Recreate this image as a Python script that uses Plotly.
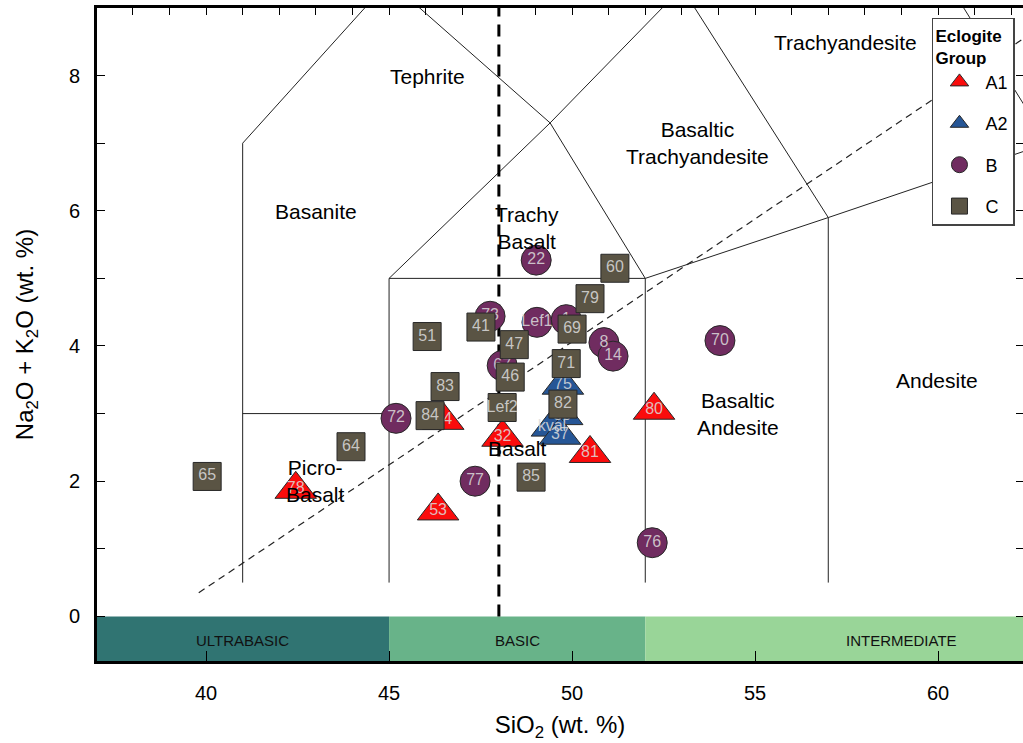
import plotly.graph_objects as go

FONT = "Liberation Sans, Arial, sans-serif"

# ---------------- data ----------------
a1_labels = ["78", "53", "74", "32", "81", "80"]
a1_sio2 = [42.45, 46.34, 46.48, 48.10, 50.49, 52.24]
a1_alk = [1.88, 1.56, 2.90, 2.65, 2.41, 3.05]

a2_labels = ["75", "30", "kval", "37"]
a2_sio2 = [49.75, 49.73, 49.45, 49.67]
a2_alk = [3.42, 2.97, 2.80, 2.68]

b_labels = ["22", "73", "Lef1", "1", "8", "14", "67", "72", "77", "70", "76"]
b_sio2 = [49.02, 47.76, 49.04, 49.84, 50.87, 51.12, 48.09, 45.19, 47.35, 54.04, 52.19]
b_alk = [5.27, 4.44, 4.35, 4.39, 4.05, 3.85, 3.71, 2.93, 2.00, 4.08, 1.09]

c_labels = ["60", "79", "41", "69", "47", "51", "71", "46", "83", "84", "Lef2", "82", "85", "64", "65"]
c_sio2 = [51.17, 50.49, 47.51, 50.00, 48.42, 46.04, 49.84, 48.31, 46.53, 46.12, 48.09, 49.75, 48.88, 43.96, 40.03]
c_alk = [5.15, 4.70, 4.28, 4.25, 4.02, 4.14, 3.74, 3.54, 3.40, 2.97, 3.09, 3.14, 2.06, 2.51, 2.07]

# TAS field boundaries (Le Maitre) as polylines
tas_lines = [
    ([41, 41, 45], [0.5, 7, 9.4]),
    ([41, 45], [3, 3]),
    ([45, 45, 52, 52], [0.5, 5, 5, 0.5]),
    ([45, 49.4, 52], [5, 7.3, 5]),
    ([45, 49.4, 53], [9.4, 7.3, 9.3]),
    ([52, 57, 63], [5, 5.9, 7]),
    ([57, 57, 53], [0.5, 5.9, 9.3]),
    ([57.6, 63], [11.7, 7]),
]
# Irvine & Baragar alkaline / subalkaline divide
alk_line_x = [39.8, 65.5]
alk_line_y = [0.35, 9.7]
divide_x = 48

field_names = ["Tephrite", "Basanite", "Trachy<br>Basalt", "Basaltic<br>Trachyandesite",
               "Trachyandesite", "Picro-<br>Basalt", "Basalt", "Basaltic<br>Andesite", "Andesite"]
field_x = [46.04, 43.0, 48.77, 53.42, 57.46, 43.0, 48.5, 54.54, 59.97]
field_y = [7.99, 5.99, 5.74, 7.0, 8.49, 2.0, 2.49, 2.99, 3.49]

band_names = ["ULTRABASIC", "BASIC", "INTERMEDIATE"]
band_edges = [37.0, 45, 52, 66]
band_colors = ["rgb(48,116,114)", "rgb(104,179,137)", "rgb(153,213,152)"]
band_label_x = [41.0, 48.5, 59.0]

x_range = [37.02, 62.32]
y_range = [-0.66, 9.0]
x_ticks = [40, 45, 50, 55, 60]

groups = [
    ("A1", a1_sio2, a1_alk, a1_labels, "triangle-up", "rgb(250,12,12)", 36),
    ("A2", a2_sio2, a2_alk, a2_labels, "triangle-up", "rgb(38,86,150)", 36),
    ("B", b_sio2, b_alk, b_labels, "circle", "rgb(112,44,96)", 30),
    ("C", c_sio2, c_alk, c_labels, "square", "rgb(90,84,68)", 28),
]

fig = go.Figure()

for lx, ly in tas_lines:
    fig.add_trace(go.Scatter(x=lx, y=ly, mode="lines", line=dict(color="#222", width=1),
                             showlegend=False, hoverinfo="skip"))

fig.add_trace(go.Scatter(x=alk_line_x, y=alk_line_y, mode="lines",
                         line=dict(color="#222", width=1.2, dash="7px,5px"),
                         showlegend=False, hoverinfo="skip"))

fig.add_trace(go.Scatter(x=[divide_x, divide_x], y=[0, y_range[1]], mode="lines",
                         line=dict(color="black", width=3, dash="12px,8px"),
                         showlegend=False, hoverinfo="skip"))

for name, xs, ys, labels, sym, col, size in groups:
    fig.add_trace(go.Scatter(
        x=xs, y=ys, mode="markers+text", text=labels, textposition="middle center",
        textfont=dict(family=FONT, size=16, color="rgba(220,220,220,0.85)"),
        marker=dict(symbol=sym, size=size, color=col, line=dict(color="rgb(40,40,40)", width=1)),
        name=name, legendgroup=name, showlegend=False, cliponaxis=False))

for name, xs, ys, labels, sym, col, size in groups:
    fig.add_trace(go.Scatter(
        x=[None], y=[None], mode="markers", name=name, legendgroup=name,
        marker=dict(symbol=sym, size=size, color=col, line=dict(color="rgb(40,40,40)", width=1))))

# dummy trace on the top / right mirror axes
fig.add_trace(go.Scatter(x=[None], y=[None], xaxis="x2", yaxis="y2", showlegend=False, hoverinfo="skip"))

shapes = []
for i, nm in enumerate(band_names):
    shapes.append(dict(type="rect", xref="x", yref="y", x0=band_edges[i], x1=band_edges[i + 1],
                       y0=y_range[0], y1=0, fillcolor=band_colors[i], line=dict(width=0), layer="below"))

annotations = []
for nm, fx, fy in zip(field_names, field_x, field_y):
    annotations.append(dict(x=fx, y=fy, xref="x", yref="y", text=nm, showarrow=False,
                            font=dict(family=FONT, size=21, color="black")))
for nm, bx in zip(band_names, band_label_x):
    annotations.append(dict(x=bx, y=-0.35, xref="x", yref="y", text=nm, showarrow=False,
                            font=dict(family=FONT, size=15, color="#111")))

fig.update_layout(
    width=1023, height=743,
    margin=dict(l=97, r=0, t=8, b=82),
    paper_bgcolor="white", plot_bgcolor="white",
    font=dict(family=FONT, color="black"),
    shapes=shapes, annotations=annotations,
    xaxis=dict(range=x_range, tickvals=x_ticks, ticks="inside", ticklen=10, tickwidth=1,
               tickcolor="black", showline=True, linewidth=3, linecolor="black",
               showgrid=False, zeroline=False, tickfont=dict(size=20),
               ticklabelstandoff=12,
               title=dict(text="SiO<sub>2</sub> (wt. %)", font=dict(size=24), standoff=14)),
    xaxis2=dict(range=x_range, overlaying="x", side="top", dtick=1, tick0=0, ticks="inside",
                ticklen=7, tickwidth=1, tickcolor="black", showline=True, linewidth=3,
                linecolor="black", showticklabels=False, showgrid=False, zeroline=False),
    yaxis=dict(range=y_range, dtick=2, tick0=0, ticks="inside", ticklen=8,
               tickwidth=1, tickcolor="black", showline=True, linewidth=3, linecolor="black",
               minor=dict(dtick=1, tick0=0, ticks="inside", ticklen=8, tickwidth=1, tickcolor="black",
                          showgrid=False),
               showgrid=False, zeroline=False, tickfont=dict(size=20), ticklabelstandoff=10,
               title=dict(text="Na<sub>2</sub>O + K<sub>2</sub>O (wt. %)", font=dict(size=24), standoff=29)),
    yaxis2=dict(range=y_range, overlaying="y", side="right", dtick=1, tick0=0, ticks="inside",
                ticklen=7, tickwidth=1, tickcolor="black", showline=False, showticklabels=False,
                showgrid=False, zeroline=False),
    legend=dict(x=0.9017, y=0.9847, xanchor="left", yanchor="top", bgcolor="white",
                bordercolor="#444", borderwidth=1.5, font=dict(size=18, family=FONT),
                title=dict(text="<b>Eclogite<br>Group</b>", font=dict(size=17)),
                itemsizing="trace", itemwidth=42, tracegroupgap=15),
)

fig.write_html("out.html",
               config={"displayModeBar": False},
               post_script="document.body.style.margin='0';"
                           "document.documentElement.style.overflow='hidden';")
